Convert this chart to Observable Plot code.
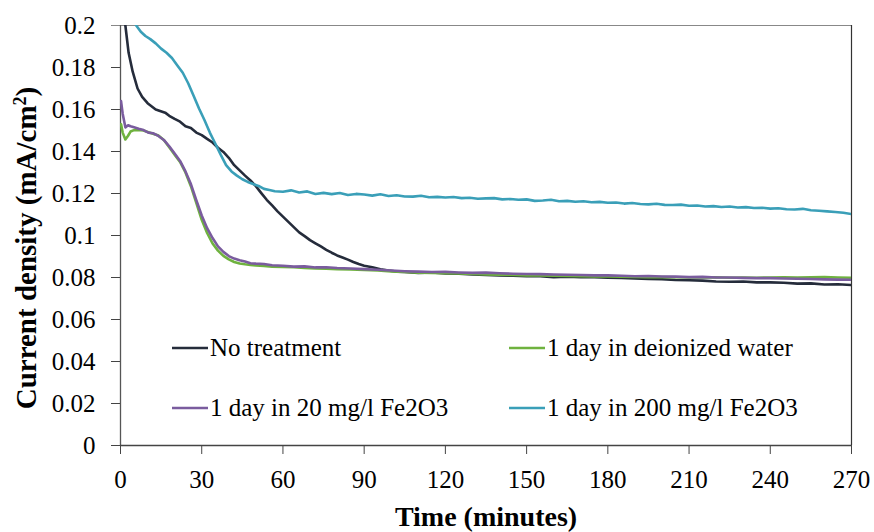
<!DOCTYPE html>
<html>
<head>
<meta charset="utf-8">
<script src="https://cdn.jsdelivr.net/npm/d3@7"></script>
<script src="https://cdn.jsdelivr.net/npm/@observablehq/plot@0.6"></script>
<style>
  html, body { margin: 0; padding: 0; background: #fff; }
  #chart { width: 874px; height: 532px; }
</style>
</head>
<body>
<div id="chart"></div>
<script>
const seriesNames = ["No treatment", "1 day in deionized water", "1 day in 20 mg/l Fe2O3", "1 day in 200 mg/l Fe2O3"];
const seriesColors = ["#252c3b", "#6fb23f", "#7a5c9e", "#3a9fb8"];
const xTicks = [0, 30, 60, 90, 120, 150, 180, 210, 240, 270];
const yTicks = [0, 0.02, 0.04, 0.06, 0.08, 0.1, 0.12, 0.14, 0.16, 0.18, 0.2];

// [time (minutes), current density (mA/cm2)]
const noTreatment = [
  [0.3,0.215],[1,0.205],[1.8,0.2],[3,0.187],[4.5,0.178],[6.3,0.170],[8,0.166],[10,0.163],[13,0.160],
  [16.5,0.1585],[18,0.157],[20,0.1555],[22,0.1542],[24,0.152],[26,0.1512],[28,0.149],[30,0.1478],
  [32,0.146],[34,0.1443],[36,0.1418],[38,0.1398],[40,0.137],[42,0.1335],[44,0.131],[46,0.1285],
  [48,0.1262],[50,0.1235],[52,0.1202],[54,0.117],[56,0.1143],[58,0.1115],[60,0.109],[62,0.1065],
  [64,0.104],[66,0.1015],[68,0.0997],[70,0.0978],[72,0.0963],[74,0.0948],[76,0.0932],[78,0.0918],
  [80,0.0905],[82,0.0895],[84,0.0885],[86,0.0874],[88,0.0864],[90,0.0856],[93,0.0849],[96,0.0839],
  [99,0.0833],[102,0.0828],[105,0.0826],[110,0.0822],[115,0.0824],[120,0.0819],[125,0.0818],
  [130,0.0814],[135,0.0812],[140,0.081],[145,0.0808],[150,0.0806],[155,0.0806],[160,0.0802],
  [165,0.0804],[170,0.0801],[175,0.0801],[180,0.0799],[185,0.0798],[190,0.0795],[195,0.0793],
  [200,0.0792],[205,0.0788],[210,0.0787],[215,0.0785],[220,0.0781],[225,0.078],[230,0.0781],
  [235,0.0777],[240,0.0777],[245,0.0775],[250,0.0771],[255,0.0772],[260,0.0767],[265,0.0768],[270,0.0764]
];
const deionized = [
  [0.2,0.153],[0.8,0.149],[1.8,0.1457],[2.8,0.1475],[3.7,0.1495],[5,0.1502],[6.7,0.1503],[8.5,0.15],
  [10.3,0.1492],[12,0.1485],[14,0.1476],[16,0.1455],[18,0.142],[20,0.1385],[22,0.135],[24,0.13],
  [26,0.1235],[28,0.1155],[30,0.1075],[32,0.1012],[34,0.0962],[36,0.0928],[38,0.0903],[40,0.0886],
  [42,0.0874],[44,0.0867],[46,0.0863],[48,0.086],[50,0.0857],[53,0.0855],[56,0.0852],[60,0.085],
  [64,0.0849],[68,0.0846],[72,0.0843],[76,0.0842],[80,0.084],[85,0.0838],[90,0.0836],[95,0.0833],
  [100,0.0829],[105,0.0826],[110,0.0823],[115,0.0822],[120,0.082],[125,0.0819],[130,0.0817],
  [135,0.0815],[140,0.0813],[145,0.0812],[150,0.081],[155,0.081],[160,0.0808],[165,0.0807],
  [170,0.0806],[175,0.0805],[180,0.0805],[185,0.0804],[190,0.0803],[195,0.0802],[200,0.0802],
  [205,0.0801],[210,0.08],[215,0.08],[220,0.0801],[225,0.0799],[230,0.08],[235,0.0799],[240,0.08],
  [245,0.0801],[250,0.08],[255,0.0801],[260,0.0802],[265,0.08],[270,0.0799]
];
const fe20 = [
  [0.2,0.164],[0.8,0.158],[1.8,0.1515],[2.8,0.1525],[3.7,0.152],[5,0.1515],[6.7,0.1508],[8.5,0.1502],
  [10.3,0.149],[12,0.1487],[14,0.1474],[16,0.1455],[18,0.1425],[20,0.139],[22,0.1355],[24,0.1305],
  [26,0.1245],[28,0.1168],[30,0.1095],[32,0.1035],[34,0.0988],[36,0.0948],[38,0.0922],[40,0.0902],
  [42,0.089],[44,0.0882],[46,0.0876],[48,0.0868],[50,0.0866],[53,0.0864],[56,0.0858],[60,0.0856],
  [64,0.0852],[68,0.0853],[72,0.0848],[76,0.0849],[80,0.0845],[85,0.0843],[90,0.084],[95,0.0837],
  [100,0.0833],[105,0.083],[110,0.0828],[115,0.0826],[120,0.0827],[125,0.0824],[130,0.0822],
  [135,0.0823],[140,0.082],[145,0.0818],[150,0.0817],[155,0.0816],[160,0.0814],[165,0.0813],
  [170,0.0812],[175,0.081],[180,0.081],[185,0.0808],[190,0.0806],[195,0.0807],[200,0.0805],
  [205,0.0804],[210,0.0802],[215,0.0803],[220,0.08],[225,0.08],[230,0.0798],[235,0.0797],
  [240,0.0797],[245,0.0795],[250,0.0794],[255,0.0793],[260,0.0791],[265,0.079],[270,0.0789]
];
const fe200 = [
  [0,0.215],[3,0.207],[5.8,0.2],[7.5,0.197],[9.2,0.195],[11,0.1935],[13,0.1915],[15,0.189],
  [17,0.187],[19,0.1845],[21,0.181],[23,0.1775],[25,0.1725],[27,0.1665],[29,0.1605],[31,0.155],
  [33,0.149],[35,0.1438],[37,0.1385],[39,0.1335],[41,0.1305],[43,0.1285],[45,0.1268],[47,0.1255],
  [49,0.1245],[51,0.1236],[53,0.1222],[55,0.1217],[57,0.1211],[60,0.1208],[63,0.1215],[66,0.1205],
  [69,0.121],[72,0.1198],[75,0.1203],[78,0.1197],[81,0.1202],[84,0.1193],[87,0.1198],[90,0.1195],
  [93,0.119],[96,0.1196],[99,0.1188],[102,0.1192],[105,0.1186],[108,0.1185],[111,0.1189],
  [114,0.1182],[117,0.1184],[120,0.1181],[123,0.1183],[126,0.1178],[129,0.118],[132,0.1175],
  [135,0.1177],[138,0.1178],[141,0.1172],[144,0.1174],[147,0.117],[150,0.1172],[153,0.1165],
  [156,0.1167],[159,0.117],[162,0.1163],[165,0.1165],[168,0.1161],[171,0.1163],[174,0.1158],
  [177,0.116],[180,0.1156],[183,0.1157],[186,0.1152],[189,0.1155],[192,0.115],[195,0.1148],
  [198,0.1151],[201,0.1146],[204,0.1145],[207,0.1147],[210,0.1142],[213,0.1143],[216,0.1138],
  [219,0.114],[222,0.1136],[225,0.1138],[228,0.1133],[231,0.1135],[234,0.1131],[237,0.1132],
  [240,0.1128],[243,0.113],[246,0.1125],[249,0.1124],[252,0.1127],[255,0.112],[258,0.1118],
  [261,0.1115],[264,0.1112],[267,0.1108],[270,0.1102]
];

const allSeries = [noTreatment, deionized, fe20, fe200];
const rows = allSeries.flatMap((s, i) => s.map(([t, v]) => ({t, v, name: seriesNames[i]})));

const FONT = '"Liberation Serif", "Times New Roman", serif';
const fmt = d => String(+d.toFixed(2));

const chart = Plot.plot({
  width: 874,
  height: 532,
  marginLeft: 120,
  marginRight: 23,
  marginTop: 25,
  marginBottom: 87,
  style: { fontFamily: FONT, fontSize: "25px", background: "#fff", color: "#000", overflow: "visible" },
  x: { domain: [0, 270] },
  y: { domain: [0, 0.2] },
  color: { domain: seriesNames, range: seriesColors },
  marks: [
    Plot.axisX({ ticks: xTicks, tickSize: 9, tickPadding: 16, tickFormat: fmt, label: null, fontSize: 25, stroke: "#444" }),
    Plot.axisY({ ticks: yTicks, tickSize: 9, tickPadding: 16, tickFormat: fmt, label: null, fontSize: 25, stroke: "#444" }),
    Plot.ruleY([0.2], { x1: -3.3, x2: 270, stroke: "#888", strokeWidth: 1.2, clip: false }),
    Plot.ruleX([270], { stroke: "#333", strokeWidth: 1.2 }),
    Plot.ruleX([0], { stroke: "#555", strokeWidth: 1.3 }),
    Plot.ruleY([0], { stroke: "#444", strokeWidth: 1.3 }),
    Plot.line(rows, { x: "t", y: "v", z: "name", stroke: "name", strokeWidth: 2.6, clip: true, strokeLinejoin: "round" })
  ]
});

document.getElementById("chart").appendChild(chart);

const svg = d3.select(chart);
// Axis titles
const yl = svg.append("text")
  .attr("transform", "translate(36,248) rotate(-90)")
  .attr("text-anchor", "middle")
  .attr("font-family", FONT).attr("font-size", 29).attr("font-weight", "bold").attr("fill", "#000");
yl.append("tspan").text("Current density (mA/cm");
yl.append("tspan").attr("dy", -10).attr("font-size", 18).text("2");
yl.append("tspan").attr("dy", 10).text(")");

svg.append("text")
  .attr("x", 486).attr("y", 526)
  .attr("text-anchor", "middle")
  .attr("font-family", FONT).attr("font-size", 28).attr("font-weight", "bold").attr("fill", "#000")
  .text("Time (minutes)");

// Legend
const legendPos = [[172, 348], [509, 348], [172, 408], [509, 408]];
seriesNames.forEach((name, i) => {
  const [lx, ly] = legendPos[i];
  svg.append("line").attr("x1", lx).attr("x2", lx + 36).attr("y1", ly).attr("y2", ly)
    .attr("stroke", seriesColors[i]).attr("stroke-width", 2.6);
  svg.append("text").attr("x", lx + 38).attr("y", ly + 8)
    .attr("text-anchor", "start")
    .attr("font-family", FONT).attr("font-size", 25).attr("fill", "#000").text(name);
});
</script>
</body>
</html>
